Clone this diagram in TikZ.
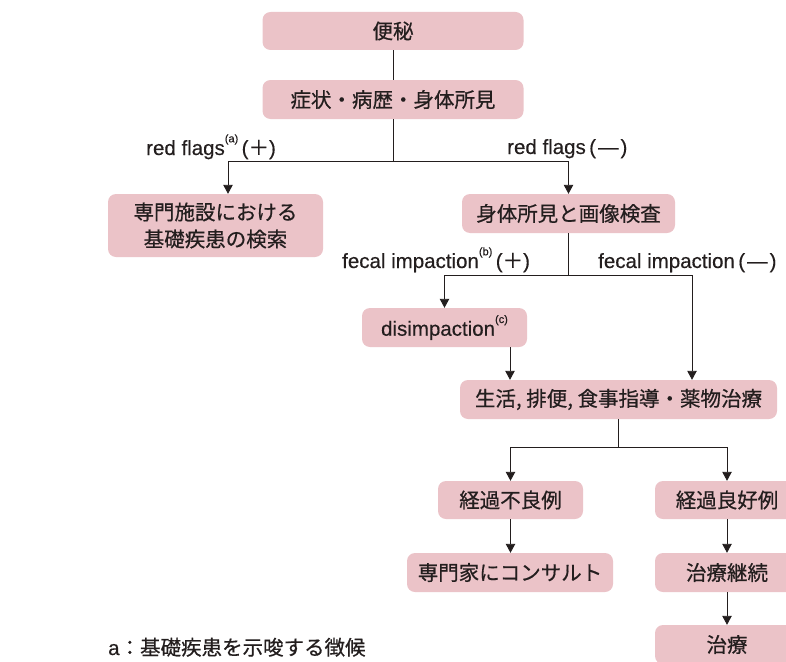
\documentclass[tikz,border=0pt]{standalone}
\usepackage{fontspec}
\setmainfont[FakeBold=0.4]{Liberation Sans}
\newfontfamily\cjk[FakeBold=0.6]{Noto Sans CJK JP}
\usetikzlibrary{arrows.meta,calc}
\definecolor{boxpink}{RGB}{235,195,200}
\definecolor{ink}{RGB}{35,30,30}
\newcommand\mysupx[1]{\raisebox{0.62em}{\fontsize{11}{11}\selectfont #1}}
\begin{document}
\begin{tikzpicture}[x=1pt,y=-1pt,
  box/.style={fill=boxpink, rounded corners=8pt, inner sep=0pt, text=ink,
    font=\cjk\fontsize{20.5}{27}\selectfont, align=center},
  arr/.style={draw=ink, line width=0.9pt, -{Triangle[width=9.5pt,length=9pt]}},
  ln/.style={draw=ink, line width=0.9pt},
  lbl/.style={text=ink, inner sep=0pt, anchor=base west, font=\fontsize{20.5}{24}\selectfont}]
\useasboundingbox (0,0) rectangle (786,661);
\clip (0,0) rectangle (786,661);

% boxes
\node[box, minimum width=261pt, minimum height=38pt] (n1) at (393,31) {便秘};
\node[box, minimum width=261pt, minimum height=39pt] (n2) at (393,99.5) {症状・病歴・身体所見};
\node[box, minimum width=215pt, minimum height=63pt] (n3) at (215.5,225.5) {専門施設における\\基礎疾患の検索};
\node[box, minimum width=213pt, minimum height=39pt] (n4) at (568.5,213.5) {身体所見と画像検査};
\node[box, minimum width=165pt, minimum height=39pt, font=\fontsize{20.5}{24}\selectfont] (n5) at (444.5,327.5) {disimpaction\mysupx{(c)}};
\node[box, minimum width=317pt, minimum height=39pt] (n6) at (618.5,399.5) {生活, 排便, 食事指導・薬物治療};
\node[box, minimum width=145pt, minimum height=38pt] (n7) at (510.5,500) {経過不良例};
\node[box, minimum width=144pt, minimum height=38pt] (n8) at (727,500) {経過良好例};
\node[box, minimum width=206pt, minimum height=39pt] (n9) at (510,572.5) {専門家にコンサルト};
\node[box, minimum width=144pt, minimum height=39pt] (n10) at (727,572.5) {治療継続};
\node[box, minimum width=144pt, minimum height=39pt] (n11) at (727,644.5) {治療};

% labels
\node[lbl] (l1) at (146,155) {red flags\mysupx{(a)}\,({\cjk ＋})};
\node[lbl] (l2) at (507,154) {red flags\,(\kern2pt—\kern2pt)};
\node[lbl] (l3) at (342,268) {fecal impaction\mysupx{(b)}\,({\cjk ＋})};
\node[lbl] (l4) at (598,268) {fecal impaction\,(\kern2pt—\kern2pt)};
\node[lbl] (fn) at (108,655) {a{\cjk ：基礎疾患を示唆する徴候}};

% connectors
\draw[ln] (n1.south) -- (n2.north);
\coordinate (j1) at (393,161);
\coordinate (t3) at ($(n3.north)+(12.5,0)$);
\draw[ln] (n2.south) -- (j1);
\draw[arr] (j1) -| (t3);
\draw[arr] (j1) -| (n4.north);

\coordinate (j2) at (568.5,275);
\coordinate (t6) at ($(n6.north)+(73.5,0)$);
\draw[ln] (n4.south) -- (j2);
\draw[arr] (j2) -| (n5.north);
\draw[arr] (j2) -| (t6);

\coordinate (d5) at ($(n5.south)+(65.5,0)$);
\draw[arr] (d5) -- (d5 |- n6.north);

\coordinate (j3) at (618.5,447);
\draw[ln] (n6.south) -- (j3);
\draw[arr] (j3) -| (n7.north);
\draw[arr] (j3) -| (n8.north);

\draw[arr] (n7.south) -- (n7.south |- n9.north);
\draw[arr] (n8.south) -- (n10.north);
\draw[arr] (n10.south) -- (n11.north);
\end{tikzpicture}
\end{document}
